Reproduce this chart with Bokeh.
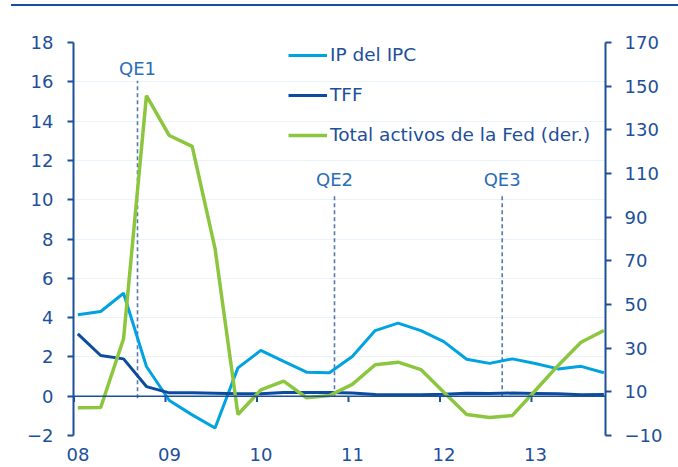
from bokeh.plotting import figure
from bokeh.models import (Range1d, LinearAxis, FixedTicker, Span, Legend, LegendItem, Div)
from bokeh.layouts import column
from bokeh.embed import file_html
from bokeh.resources import INLINE
from bokeh.core.properties import value

# ---------------- data ----------------
q_years = [2008] * 4 + [2009] * 4 + [2010] * 4 + [2011] * 4 + [2012] * 4 + [2013] * 4
q_nums = [1, 2, 3, 4] * 6

ipc = [4.14, 4.31, 5.24, 1.51, -0.22, -0.95, -1.62, 1.44, 2.33, 1.77, 1.22, 1.19,
       2.02, 3.34, 3.72, 3.34, 2.78, 1.88, 1.67, 1.90, 1.66, 1.39, 1.52, 1.19]
tff = [3.17, 2.07, 1.90, 0.49, 0.17, 0.17, 0.15, 0.12, 0.13, 0.19, 0.19, 0.19,
       0.16, 0.09, 0.08, 0.07, 0.10, 0.15, 0.14, 0.16, 0.14, 0.12, 0.08, 0.09]
fed = [2.7, 2.8, 34.3, 145.7, 127.4, 122.4, 75.6, -0.4, 10.9, 14.9, 7.3, 8.3,
       13.4, 22.4, 23.6, 20.2, 9.8, -0.4, -1.8, -0.8, 10.6, 22.1, 32.7, 38.1]

series_names = ["IP del IPC", "TFF", "Total activos de la Fed (der.)"]

qe_names = ["QE1", "QE2", "QE3"]
qe_dates = [2008.694, 2010.847, 2012.680]
qe_line_top = [16.05, 10.3, 10.3]
qe_line_bottom = [-0.1, 0.0, 0.0]
qe_label_y = [16.7, 11.05, 11.05]

year_ticks = [2008, 2009, 2010, 2011, 2012, 2013]
year_labels = ["08", "09", "10", "11", "12", "13"]
left_ticks = [-2, 0, 2, 4, 6, 8, 10, 12, 14, 16, 18]
right_ticks = [-10, 10, 30, 50, 70, 90, 110, 130, 150, 170]

# ---------------- styles ----------------
C_IPC = "#00A3E0"
C_TFF = "#0C4C9E"
C_FED = "#8CC63F"
C_AXIS = "#1D4F9B"
C_TEXT = "#1D4F9B"
C_QE = "#2A6DB5"
C_DASH = "#5678B0"
C_GRID = "#EAF3FA"
FONT = "DejaVu Sans"
FS = "18px"

t = [y + (3 * (q - 1) + 0.5) / 12.0 for y, q in zip(q_years, q_nums)]

x_start, x_end = 2007.9945, 2013.809
shift = 0.044

p = figure(width=678, height=461, output_backend="svg", toolbar_location=None,
           x_range=Range1d(x_start, x_end), y_range=Range1d(-2, 18),
           x_axis_location=None)
p.min_border = 0
p.min_border_left = 73
p.min_border_right = 73
p.min_border_top = 36
p.min_border_bottom = 32
p.outline_line_color = None
p.background_fill_color = "white"
p.border_fill_color = "white"

p.extra_y_ranges = {"r": Range1d(-10, 170)}
p.extra_x_ranges = {"lab": Range1d(x_start - shift, x_end - shift)}

# grid
p.xgrid.visible = False
p.ygrid.ticker = FixedTicker(ticks=left_ticks)
p.ygrid.grid_line_color = C_GRID
p.ygrid.grid_line_width = 1


def style_axis(ax):
    ax.axis_line_color = C_AXIS
    ax.axis_line_width = 2
    ax.major_tick_line_color = C_AXIS
    ax.major_tick_line_width = 2
    ax.major_tick_in = 0
    ax.major_tick_out = 6
    ax.minor_tick_line_color = None
    ax.major_label_text_font = FONT
    ax.major_label_text_font_size = FS
    ax.major_label_text_color = C_TEXT


left = p.yaxis[0]
left.ticker = FixedTicker(ticks=left_ticks)
style_axis(left)
left.major_label_standoff = 14

right = LinearAxis(y_range_name="r", ticker=FixedTicker(ticks=right_ticks))
style_axis(right)
right.major_label_standoff = 13
p.add_layout(right, "right")

bottom = LinearAxis(x_range_name="lab", ticker=FixedTicker(ticks=year_ticks),
                    major_label_overrides=dict(zip(year_ticks, year_labels)))
style_axis(bottom)
bottom.axis_line_color = None
bottom.major_tick_line_color = None
bottom.major_tick_out = 0
bottom.major_label_standoff = 12
p.add_layout(bottom, "below")

# QE markers
p.segment(x0=qe_dates, x1=qe_dates, y0=qe_line_bottom, y1=qe_line_top,
          line_color=C_DASH, line_width=1.6, line_dash="4 3")
p.text(x=qe_dates, y=qe_label_y, text=qe_names, text_align="center",
       text_baseline="middle", text_font=value(FONT), text_font_size=FS,
       text_color=C_QE)

# zero line with year ticks
p.add_layout(Span(location=0, dimension="width", line_color=C_AXIS, line_width=1.5))
p.segment(x0=year_ticks, x1=year_ticks, y0=0, y1=-0.3, line_color=C_AXIS, line_width=2)

# series
r_ipc = p.line(t, ipc, line_color=C_IPC, line_width=3)
r_tff = p.line(t, tff, line_color=C_TFF, line_width=3)
r_fed = p.line(t, fed, line_color=C_FED, line_width=3.5, y_range_name="r")

legend = Legend(items=[LegendItem(label=series_names[0], renderers=[r_ipc]),
                       LegendItem(label=series_names[1], renderers=[r_tff]),
                       LegendItem(label=series_names[2], renderers=[r_fed])],
                location=(215, 290), orientation="vertical",
                border_line_color=None, background_fill_alpha=0,
                padding=0, margin=0, spacing=19,
                glyph_width=39, glyph_height=20, label_height=20,
                label_standoff=3, label_text_font=FONT,
                label_text_font_size="18.5px", label_text_color=C_TEXT)
p.add_layout(legend)

rule = Div(text="", width=667, height=2, margin=(4, 0, 0, 11),
           styles={"background-color": "#1450A0", "overflow": "hidden"})

layout = column(rule, p, spacing=0)

open("out.html", "w").write(file_html(layout, INLINE))
